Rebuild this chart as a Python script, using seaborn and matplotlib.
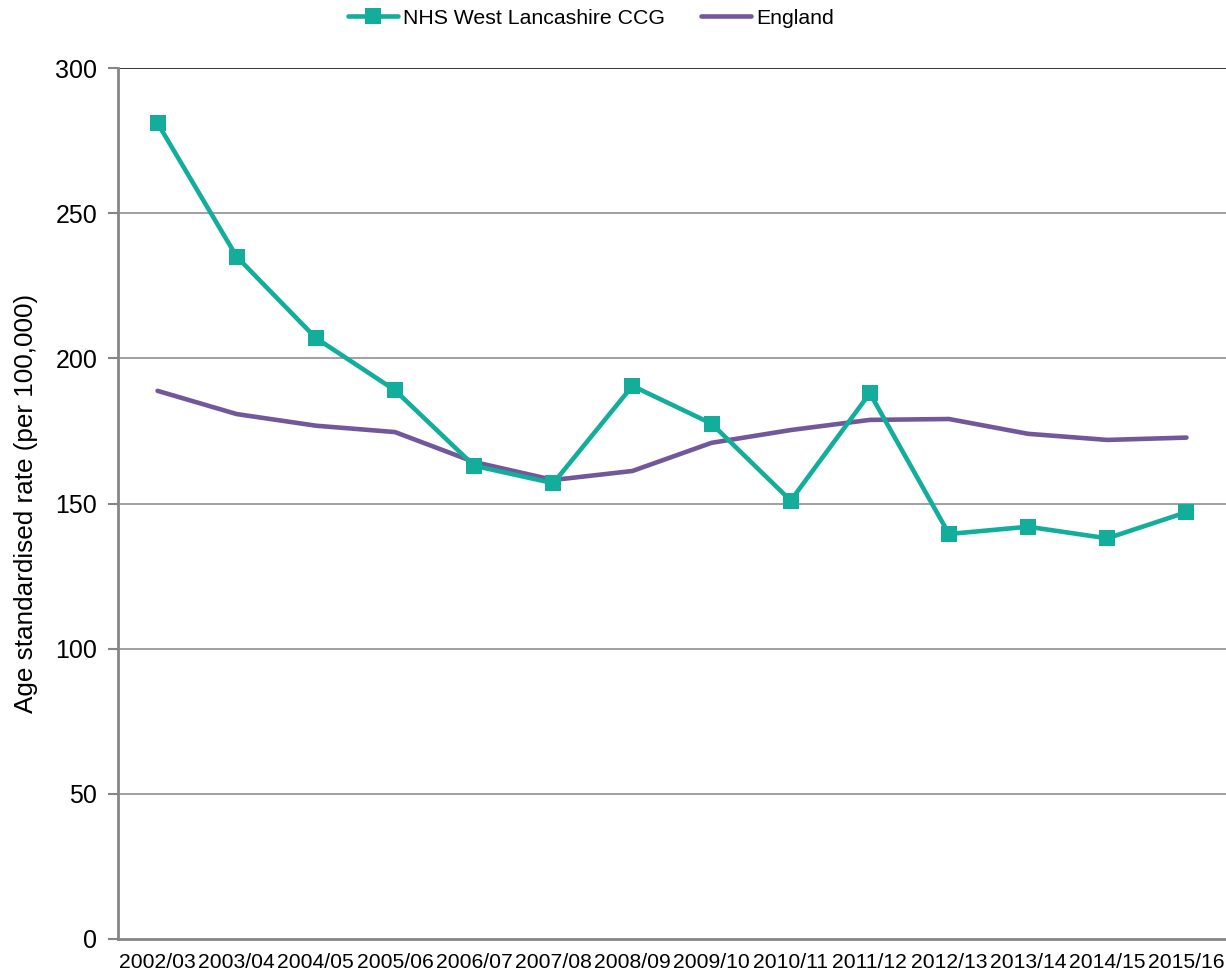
import matplotlib
matplotlib.use("Agg")
import matplotlib.pyplot as plt
import seaborn as sns
import pandas as pd
import numpy as np
from matplotlib.ticker import FixedLocator

years = ["2002/03", "2003/04", "2004/05", "2005/06", "2006/07", "2007/08", "2008/09",
         "2009/10", "2010/11", "2011/12", "2012/13", "2013/14", "2014/15", "2015/16"]
nhs_west_lancs = [281, 235, 207, 189, 163, 157, 190.5, 177.5, 151, 188, 139.5, 142, 138, 147]
england = [188.8, 180.8, 176.8, 174.6, 164.3, 158.1, 161.2, 170.9, 175.3, 178.8, 179.1, 174.0, 171.9, 172.7]
y_ticks = [0, 50, 100, 150, 200, 250, 300]

sns.set_theme(style="white")
plt.rcParams['font.family'] = ['Liberation Sans', 'DejaVu Sans']
plt.rcParams['text.color'] = 'black'
plt.rcParams['axes.labelcolor'] = 'black'
plt.rcParams['xtick.color'] = 'black'
plt.rcParams['ytick.color'] = 'black'

df = pd.DataFrame({
    "pos": list(range(len(years))) * 2,
    "value": nhs_west_lancs + england,
    "series": ["NHS West Lancashire CCG"] * len(years) + ["England"] * len(years),
})

fig = plt.figure(figsize=(12.26, 9.75), dpi=100)
ax = fig.add_axes([118/1226, 1 - 939/975, 1 - 118/1226, (939 - 68)/975])

teal = "#12AE9B"
purple = "#72579B"
grid_c = "#868686"

for yv in y_ticks[1:]:
    ax.axhline(yv, color=grid_c if yv < 300 else "#000000", lw=1.1, zorder=0)

sns.lineplot(data=df[df.series == "NHS West Lancashire CCG"], x="pos", y="value", ax=ax,
             color=teal, lw=3.3, marker="s", markersize=11, markeredgewidth=0,
             label="NHS West Lancashire CCG", zorder=3)
sns.lineplot(data=df[df.series == "England"], x="pos", y="value", ax=ax,
             color=purple, lw=3.3, label="England", zorder=2)

ax.set_xlim(-0.5, 13.5)
ax.set_ylim(0, 300)
ax.set_yticks(y_ticks)
ax.set_yticklabels([str(v) for v in y_ticks], fontsize=18)
ax.set_xticks(range(len(years)))
ax.set_xticklabels(years, fontsize=15.2)
ax.xaxis.set_minor_locator(FixedLocator(np.arange(-0.5, 13.6, 1)))
ax.tick_params(axis="x", which="major", length=0, pad=10, colors="black")
ax.tick_params(axis="x", which="minor", length=7, width=1.5, color=grid_c, direction="out")
ax.tick_params(axis="y", which="major", length=7, width=1.5, color=grid_c, labelcolor="black",
               direction="out", pad=8, left=True)
ax.set_xlabel("")
ax.set_ylabel("Age standardised rate (per 100,000)", fontsize=18.8, labelpad=12, color="black")

for s in ["top", "right"]:
    ax.spines[s].set_visible(False)
for s in ["left", "bottom"]:
    ax.spines[s].set_color(grid_c)
    ax.spines[s].set_linewidth(2)

leg = ax.legend(loc="center", bbox_to_anchor=(0.427, 1.057), ncol=2, frameon=False,
                fontsize=15.3, handlelength=2.35, handletextpad=0.25, columnspacing=1.7)
for t in leg.get_texts():
    t.set_color("black")

fig.savefig("out.png", dpi=100)
